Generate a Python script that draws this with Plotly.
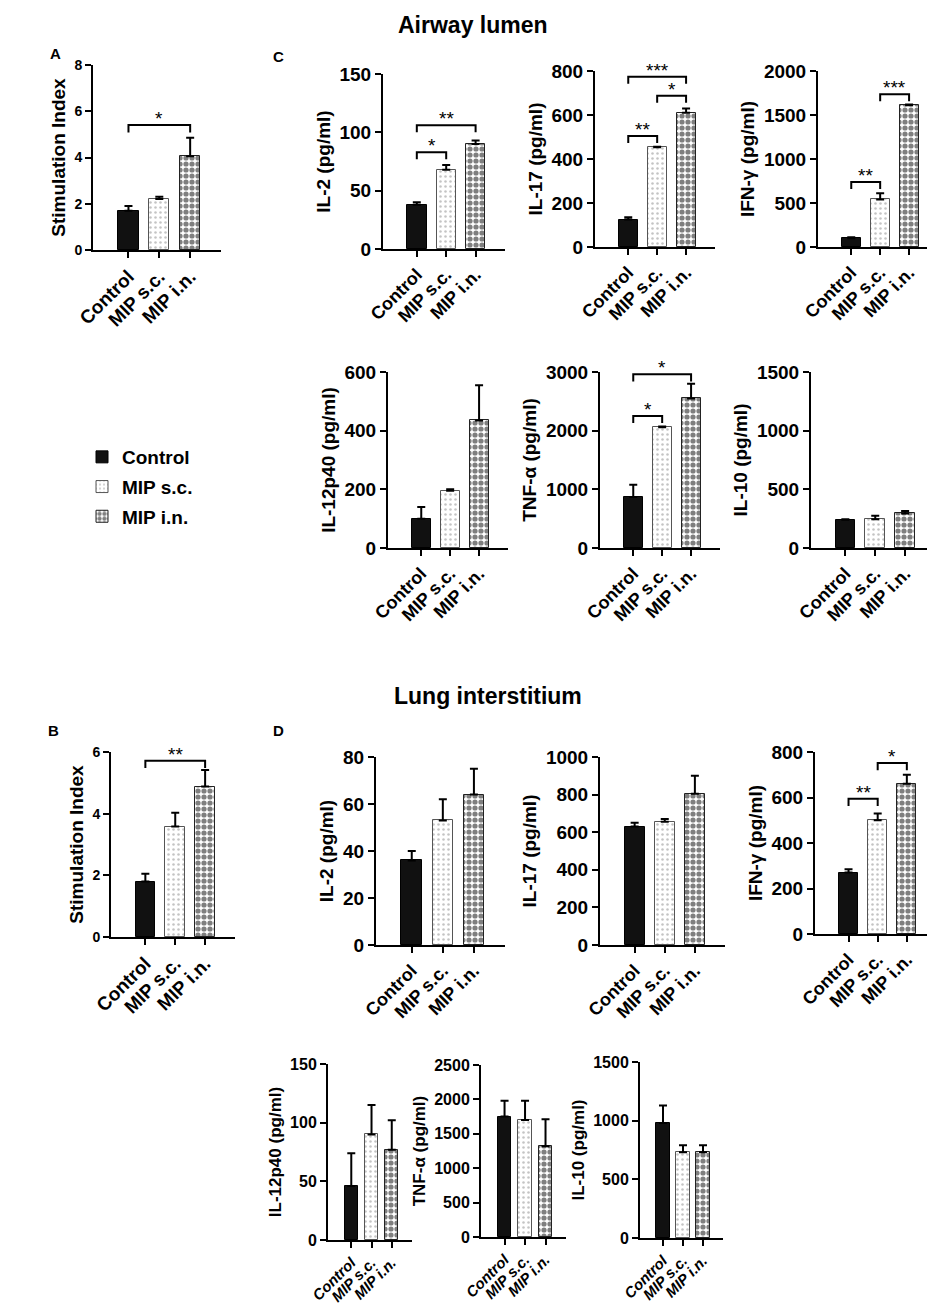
import plotly.graph_objects as go

W, H = 935, 1312
groups = ["Control", "MIP s.c.", "MIP i.n."]

# ---- Airway lumen ----
a_si = [1.7, 2.2, 4.05]
a_si_sem = [0.2, 0.1, 0.8]
a_si_sig = [(0, 2, 5.4, "*")]

c_il2 = [38, 68, 90]
c_il2_sem = [2, 4, 3]
c_il2_sig = [(0, 1, 83, "*"), (0, 2, 106, "**")]

c_il17 = [125, 453, 610]
c_il17_sem = [10, 3, 20]
c_il17_sig = [(0, 1, 505, "**"), (1, 2, 688, "*"), (0, 2, 774, "***")]

c_ifn = [100, 540, 1610]
c_ifn_sem = [12, 70, 10]
c_ifn_sig = [(0, 1, 740, "**"), (1, 2, 1736, "***")]

c_il12 = [100, 195, 435]
c_il12_sem = [40, 5, 120]

c_tnf = [870, 2060, 2550]
c_tnf_sem = [210, 10, 250]
c_tnf_sig = [(0, 1, 2250, "*"), (0, 2, 2960, "*")]

c_il10 = [240, 245, 295]
c_il10_sem = [5, 30, 20]

# ---- Lung interstitium ----
b_si = [1.8, 3.58, 4.88]
b_si_sem = [0.25, 0.45, 0.54]
b_si_sig = [(0, 2, 5.72, "**")]

d_il2 = [36, 53, 64]
d_il2_sem = [4, 9, 11]

d_il17 = [630, 655, 805]
d_il17_sem = [20, 15, 95]

d_ifn = [270, 500, 660]
d_ifn_sem = [15, 30, 40]
d_ifn_sig = [(0, 1, 595, "**"), (1, 2, 752, "*")]

d_il12 = [46, 90, 77]
d_il12_sem = [28, 25, 25]

d_tnf = [1750, 1700, 1320]
d_tnf_sem = [230, 280, 390]

d_il10 = [980, 730, 730]
d_il10_sem = [150, 60, 60]

FONT = "Liberation Sans, Arial, sans-serif"

# (ytitle, means, sems, brackets, ymax, dtick, pixel box x0,x1,ytop,ybot, style)
panels = [
    ("Stimulation Index", a_si, a_si_sem, a_si_sig, 8, 2, (85, 213, 57, 242), "si"),
    ("IL-2 (pg/ml)", c_il2, c_il2_sem, c_il2_sig, 150, 50, (375, 497, 66, 241), "big"),
    ("IL-17 (pg/ml)", c_il17, c_il17_sem, c_il17_sig, 800, 200, (587, 707, 63, 239), "big"),
    ("IFN-γ (pg/ml)", c_ifn, c_ifn_sem, c_ifn_sig, 2000, 500, (810, 930, 63, 239), "big"),
    ("IL-12p40 (pg/ml)", c_il12, c_il12_sem, [], 600, 200, (380, 500, 364, 540), "big"),
    ("TNF-α (pg/ml)", c_tnf, c_tnf_sem, c_tnf_sig, 3000, 1000, (592, 712, 364, 540), "big"),
    ("IL-10 (pg/ml)", c_il10, c_il10_sem, [], 1500, 500, (803, 927, 364, 540), "big"),
    ("Stimulation Index", b_si, b_si_sem, b_si_sig, 6, 2, (103, 227, 744, 929), "si"),
    ("IL-2 (pg/ml)", d_il2, d_il2_sem, [], 80, 20, (368, 497, 749, 937), "big"),
    ("IL-17 (pg/ml)", d_il17, d_il17_sem, [], 1000, 200, (592, 717, 749, 937), "big"),
    ("IFN-γ (pg/ml)", d_ifn, d_ifn_sem, d_ifn_sig, 800, 200, (807, 928, 744, 926), "big"),
    ("IL-12p40 (pg/ml)", d_il12, d_il12_sem, [], 150, 50, (320, 404, 1056, 1232), "narrow"),
    ("TNF-α (pg/ml)", d_tnf, d_tnf_sem, [], 2500, 500, (473, 558, 1057, 1229), "narrow"),
    ("IL-10 (pg/ml)", d_il10, d_il10_sem, [], 1500, 500, (632, 715, 1054, 1230), "narrow"),
]

bar_styles = [
    dict(color="#111111", line=dict(color="black", width=1)),
    dict(color="white", line=dict(color="#555555", width=1),
         pattern=dict(shape=".", fgcolor="#8a8a8a", bgcolor="white", size=5, solidity=0.2)),
    dict(color="white", line=dict(color="#222222", width=1),
         pattern=dict(shape=".", fgcolor="black", bgcolor="white", size=6, solidity=0.6)),
]

fig = go.Figure()
layout = {}
annotations = []

for k, (ytitle, means, sems, sig, ymax, dtick, box, style) in enumerate(panels):
    n = "" if k == 0 else str(k + 1)
    xa, ya = "x" + n, "y" + n
    x0, x1, yt, yb = box
    if style == "narrow":
        ytick_sz, title_sz, xtick_sz, xstyle = 16, 17, 15, "italic"
    elif style == "si":
        ytick_sz, title_sz, xtick_sz, xstyle = 14, 19, 19, "normal"
    else:
        ytick_sz, title_sz, xtick_sz, xstyle = 19, 19, 18, "normal"

    for g in range(3):
        fig.add_trace(go.Bar(
            x=[g], y=[means[g]], width=0.66, name=groups[g],
            marker=bar_styles[g], xaxis=xa, yaxis=ya,
            legendgroup=groups[g], showlegend=(k == 0),
            error_y=dict(type="data", array=[sems[g]], arrayminus=[0], symmetric=False,
                         color="black", thickness=2, width=4),
            cliponaxis=False,
        ))

    leg = ymax * 0.04
    for (i, j, h, lab) in sig:
        fig.add_trace(go.Scatter(
            x=[i, i, j, j], y=[h - leg, h, h, h - leg], mode="lines",
            line=dict(color="black", width=2), xaxis=xa, yaxis=ya,
            showlegend=False, hoverinfo="skip",
        ))
        annotations.append(dict(
            x=(i + j) / 2, y=h, xref=xa, yref=ya, text=lab, showarrow=False,
            yanchor="bottom", yshift=-6,
            font=dict(family=FONT, size=19, color="black"),
        ))

    axis_common = dict(showgrid=False, zeroline=False, showline=True, linecolor="black",
                       linewidth=2, ticks="outside", ticklen=6, tickwidth=2,
                       tickcolor="black", automargin=False)
    layout["xaxis" + n] = dict(
        axis_common, domain=[x0 / W, x1 / W], anchor=ya, range=[-1.15, 3.0],
        tickvals=[0, 1, 2], ticktext=groups, tickangle=-45,
        tickfont=dict(family=FONT, size=xtick_sz, color="black", weight="bold", style=xstyle),
    )
    layout["yaxis" + n] = dict(
        axis_common, domain=[1 - yb / H, 1 - yt / H], anchor=xa, range=[0, ymax],
        dtick=dtick, tick0=0,
        tickfont=dict(family=FONT, size=ytick_sz, color="black", weight="bold"),
        title=dict(text=ytitle, standoff=4,
                   font=dict(family=FONT, size=title_sz, color="black", weight="bold")),
    )

# section titles and panel letters
for txt, px, py in [("Airway lumen", 465, 2), ("Lung interstitium", 480, 673)]:
    annotations.append(dict(x=px / W, y=1 - py / H, xref="paper", yref="paper", text=txt,
                            showarrow=False, xanchor="center", yanchor="top",
                            font=dict(family=FONT, size=23, color="black", weight="bold")))
for txt, px, py in [("A", 47, 46), ("C", 270, 48), ("B", 45, 722), ("D", 270, 722)]:
    annotations.append(dict(x=px / W, y=1 - py / H, xref="paper", yref="paper", text=txt,
                            showarrow=False, xanchor="center", yanchor="middle",
                            font=dict(family=FONT, size=15, color="black", weight="bold")))

fig.update_layout(
    width=W, height=H,
    margin=dict(l=0, r=0, t=0, b=0),
    paper_bgcolor="white", plot_bgcolor="white",
    bargap=0, annotations=annotations,
    legend=dict(x=74 / W, y=1 - 430 / H, xanchor="left", yanchor="top",
                font=dict(family=FONT, size=19, color="black", weight="bold"),
                tracegroupgap=2, bgcolor="rgba(0,0,0,0)"),
    **layout,
)

fig.write_html("out.html")
